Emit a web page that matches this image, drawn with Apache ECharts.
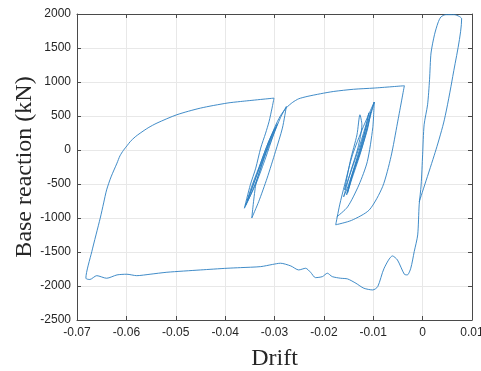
<!DOCTYPE html>
<html>
<head>
<meta charset="utf-8">
<script src="https://cdn.jsdelivr.net/npm/echarts@6/dist/echarts.min.js"></script>
<style>
  html, body { margin: 0; padding: 0; background: #fff; }
  #chart { width: 481px; height: 371px; }
</style>
</head>
<body>
<div id="chart"></div>
<script>
// Hysteresis of base reaction vs drift as [drift, kN].
const midCycles = [
  [-0.0174, -984], [-0.0152, -837], [-0.0129, -513], [-0.0112, -170], [-0.0101, 326],
  [-0.0098, 705], [-0.0113, 370], [-0.0131, -71], [-0.0150, -513], [-0.0160, -689],
  [-0.0146, -321], [-0.0131, 32], [-0.0123, 370], [-0.0127, 518], [-0.0133, 223],
  [-0.0146, -145], [-0.0158, -586], [-0.0144, -292], [-0.0127, 76], [-0.0113, 415],
  [-0.0109, 547], [-0.0115, 326], [-0.0129, -71], [-0.0146, -439], [-0.0154, -660],
  [-0.0140, -321], [-0.0123, 32], [-0.0111, 326], [-0.0105, 562], [-0.0113, 297],
  [-0.0127, -71], [-0.0144, -439], [-0.0152, -630], [-0.0138, -262], [-0.0121, 120],
  [-0.0109, 415], [-0.0098, 705], [-0.0121, 326], [-0.0142, -71], [-0.0158, -513],
  [-0.0168, -807], [-0.0176, -1100],
];
const midOuter = [
  [-0.0144, -1035], [-0.0108, -881], [-0.0081, -538], [-0.0064, -96], [-0.0051, 396],
  [-0.0037, 945], [-0.0098, 911], [-0.0140, 893], [-0.0180, 861], [-0.0207, 827],
  [-0.0234, 787], [-0.0251, 753], [-0.0263, 702], [-0.0276, 621], [-0.0288, 503],
  [-0.0300, 326], [-0.0314, 47], [-0.0328, -262], [-0.0338, -513], [-0.0346, -1000],
];
const leftCycles = [
  [-0.0332, -759], [-0.0315, -414], [-0.0298, -22], [-0.0284, 322], [-0.0276, 640],
  [-0.0288, 474], [-0.0302, 223], [-0.0318, -115], [-0.0336, -469], [-0.0353, -734],
  [-0.0359, -822], [-0.0345, -513], [-0.0328, -189], [-0.0312, 120], [-0.0298, 326],
  [-0.0308, 150], [-0.0324, -145], [-0.0341, -469], [-0.0355, -748], [-0.0338, -410],
  [-0.0322, -71], [-0.0306, 223], [-0.0294, 385], [-0.0304, 194], [-0.0320, -100],
  [-0.0336, -439], [-0.0351, -704], [-0.0361, -856], [-0.0349, -513], [-0.0338, -267],
  [-0.0328, 28], [-0.0318, 248], [-0.0311, 419], [-0.0305, 616], [-0.0301, 763],
];
const leftBranch = [
  [-0.0369, 713], [-0.0396, 690], [-0.0450, 616], [-0.0498, 518], [-0.0538, 396],
  [-0.0556, 326], [-0.0572, 248], [-0.0582, 194], [-0.0592, 125], [-0.0598, 69],
  [-0.0606, -5], [-0.0613, -86], [-0.0619, -193], [-0.0631, -395], [-0.0640, -586],
  [-0.0646, -778], [-0.0653, -1003], [-0.0670, -1494], [-0.0682, -1886],
];
const plateau = [
  [-0.0674, -1904], [-0.0660, -1848], [-0.0640, -1886], [-0.0619, -1837], [-0.0599, -1827],
  [-0.0579, -1848], [-0.0552, -1827], [-0.0518, -1798], [-0.0450, -1764], [-0.0396, -1739],
  [-0.0369, -1730], [-0.0328, -1715], [-0.0304, -1683], [-0.0288, -1665], [-0.0267, -1705],
  [-0.0251, -1764], [-0.0237, -1739], [-0.0227, -1798], [-0.0217, -1877], [-0.0203, -1862],
  [-0.0193, -1812], [-0.0183, -1862], [-0.0166, -1886], [-0.0152, -1896], [-0.0135, -1960],
  [-0.0119, -2033], [-0.0101, -2058], [-0.0091, -2010], [-0.0078, -1739], [-0.0061, -1558],
  [-0.0051, -1617], [-0.0037, -1827], [-0.0031, -1837], [-0.0024, -1739], [-0.0017, -1494],
  [-0.0010, -1249],
];
const lastCycle = [
  [-0.0007, -807], [-0.0003, -513], [0.0000, -71], [0.0003, 370], [0.0010, 665],
  [0.0014, 1033], [0.0017, 1426], [0.0024, 1695], [0.0031, 1868], [0.0037, 1956],
  [0.0047, 1990], [0.0064, 1990], [0.0074, 1965], [0.0079, 1931], [0.0061, 1081],
  [0.0044, 444], [0.0027, 3], [-0.0007, -763],
];

const path = [...midCycles, ...midOuter, ...leftCycles, ...leftBranch, ...plateau, ...lastCycle];

const INK = '#262626';
const AXIS = '#4a4a4a';
const GRIDC = '#e8e8e8';
const SANS = '"Liberation Sans", Arial, sans-serif';
const SERIF = '"Liberation Serif", "Times New Roman", serif';

const boxAxis = (extra) => ({
  axisLine: { show: true, onZero: false, lineStyle: { color: AXIS, width: 1 } },
  axisTick: { show: true, inside: true, length: 4, lineStyle: { color: AXIS } },
  axisLabel: { show: false },
  splitLine: { show: false },
  ...extra,
});

const chart = echarts.init(document.getElementById('chart'));
chart.setOption({
  backgroundColor: '#fff',
  animation: false,
  grid: { left: 77, right: 9, top: 14, bottom: 51, outerBoundsMode: 'none', containLabel: false },
  xAxis: [
    {
      type: 'value', min: -0.07, max: 0.01, interval: 0.01,
      name: 'Drift', nameLocation: 'middle', nameGap: 27,
      nameTextStyle: { fontFamily: SERIF, fontSize: 24, color: INK },
      axisLine: { show: true, onZero: false, lineStyle: { color: AXIS } },
      axisTick: { show: true, inside: true, length: 4, lineStyle: { color: AXIS } },
      axisLabel: {
        color: INK, fontFamily: SANS, fontSize: 12, margin: 7,
        formatter: (v) => String(+v.toFixed(2)),
      },
      splitLine: { show: true, lineStyle: { color: GRIDC, width: 1 } },
    },
    boxAxis({ type: 'value', position: 'top', min: -0.07, max: 0.01, interval: 0.01 }),
  ],
  yAxis: [
    {
      type: 'value', min: -2500, max: 2000, interval: 500,
      name: 'Base reaction (kN)', nameLocation: 'middle', nameGap: 40,
      nameMoveOverlap: false,
      nameTextStyle: { fontFamily: SERIF, fontSize: 24, color: INK },
      axisLine: { show: true, onZero: false, lineStyle: { color: AXIS } },
      axisTick: { show: true, inside: true, length: 4, lineStyle: { color: AXIS } },
      axisLabel: {
        color: INK, fontFamily: SANS, fontSize: 12, margin: 6,
        formatter: (v) => String(v),
      },
      splitLine: { show: true, lineStyle: { color: GRIDC, width: 1 } },
    },
    boxAxis({ type: 'value', position: 'right', min: -2500, max: 2000, interval: 500 }),
  ],
  series: [
    {
      type: 'line',
      data: path,
      showSymbol: false,
      smooth: 0.25,
      clip: true,
      lineStyle: { color: '#2b7fc2', width: 0.9 },
    },
  ],
});
</script>
</body>
</html>
